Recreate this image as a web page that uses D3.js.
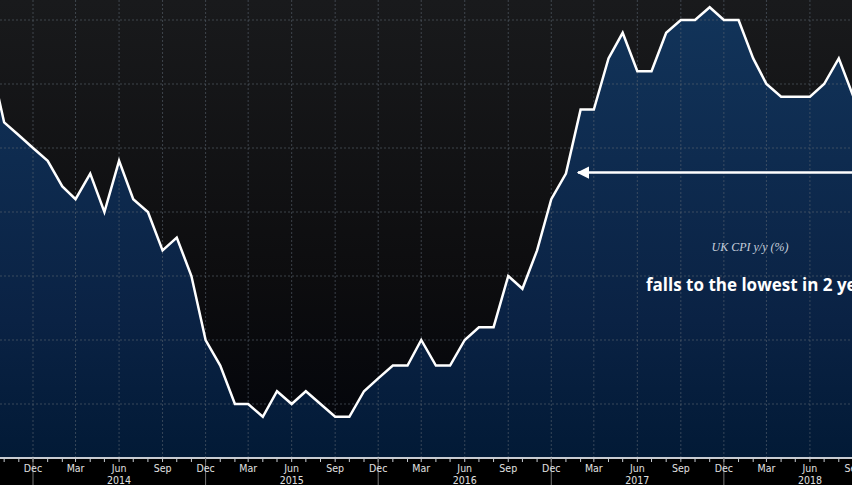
<!DOCTYPE html>
<html><head><meta charset="utf-8">
<script src="https://cdn.jsdelivr.net/npm/d3@7"></script>
<style>body{margin:0;background:#000;overflow:hidden}</style>
</head><body>
<svg id="chart" width="852" height="485"></svg>
<script>
// monthly UK CPI y/y, Sep 2013 .. Sep 2018
const startMonth = new Date(2013, 8, 1);
const cpiValues = [2.7, 2.2, 2.1, 2.0,
  1.9, 1.7, 1.6, 1.8, 1.5, 1.9, 1.6, 1.5, 1.2, 1.3, 1.0, 0.5,
  0.3, 0.0, 0.0, -0.1, 0.1, 0.0, 0.1, 0.0, -0.1, -0.1, 0.1, 0.2,
  0.3, 0.3, 0.5, 0.3, 0.3, 0.5, 0.6, 0.6, 1.0, 0.9, 1.2, 1.6,
  1.8, 2.3, 2.3, 2.7, 2.9, 2.6, 2.6, 2.9, 3.0, 3.0, 3.1, 3.0,
  3.0, 2.7, 2.5, 2.4, 2.4, 2.4, 2.5, 2.7, 2.4];
const yGridValues = [0, 0.5, 1, 1.5, 2, 2.5, 3];
const monthLabels = ["Dec", "Mar", "Jun", "Sep"];
const yearLabels = [2014, 2015, 2016, 2017, 2018];
const seriesTitle = "UK CPI y/y (%)";
const headline = "falls to the lowest in 2 years";

const data = cpiValues.map((v, i) => ({ date: d3.timeMonth.offset(startMonth, i), value: v }));

const W = 852, H = 485, axisY = 458;
const svg = d3.select("#chart");

const x = d3.scaleTime()
  .domain([new Date(2013, 11, 1), new Date(2014, 11, 1)])
  .range([33, 205.6]);
const y = d3.scaleLinear().domain([0, 3]).range([404, 20]);

const defs = svg.append("defs");
const bg = defs.append("linearGradient").attr("id", "bg").attr("x1", 0).attr("x2", 0).attr("y1", 0).attr("y2", 1);
bg.append("stop").attr("offset", 0).attr("stop-color", "#191a1c");
bg.append("stop").attr("offset", 0.6).attr("stop-color", "#0d0d0f");
bg.append("stop").attr("offset", 1).attr("stop-color", "#02040a");
const af = defs.append("linearGradient").attr("id", "af").attr("gradientUnits", "userSpaceOnUse")
  .attr("x1", 0).attr("x2", 0).attr("y1", 0).attr("y2", axisY);
af.append("stop").attr("offset", 0).attr("stop-color", "#12345a");
af.append("stop").attr("offset", 0.7).attr("stop-color", "#0a2244");
af.append("stop").attr("offset", 1).attr("stop-color", "#021a36");

svg.append("rect").attr("width", W).attr("height", axisY).attr("fill", "url(#bg)");
svg.append("rect").attr("y", axisY).attr("width", W).attr("height", H - axisY).attr("fill", "#000");

svg.append("path").datum(data)
  .attr("fill", "url(#af)")
  .attr("d", d3.area().x(d => x(d.date)).y0(axisY).y1(d => y(d.value)));

// grid
const quarterTicks = d3.timeMonth.range(new Date(2013, 11, 1), new Date(2018, 9, 1), 3);
svg.append("g").selectAll("line").data(yGridValues).join("line")
  .attr("x1", 0).attr("x2", W).attr("y1", d => y(d)).attr("y2", d => y(d))
  .attr("stroke", "#5a6470").attr("stroke-opacity", 0.6).attr("stroke-dasharray", "2,2");
svg.append("g").selectAll("line").data(quarterTicks).join("line")
  .attr("x1", d => x(d)).attr("x2", d => x(d)).attr("y1", 0).attr("y2", axisY)
  .attr("stroke", "#5a6470").attr("stroke-opacity", 0.6).attr("stroke-dasharray", "2,2");

svg.append("path").datum(data)
  .attr("fill", "none").attr("stroke", "#fff").attr("stroke-width", 2.5)
  .attr("stroke-linejoin", "miter")
  .attr("d", d3.line().x(d => x(d.date)).y(d => y(d.value)));

// x axis
const ax = svg.append("g").attr("transform", `translate(0,${axisY})`);
ax.append("line").attr("x1", 0).attr("x2", W).attr("stroke", "#c8ccd2").attr("stroke-width", 2);
ax.selectAll(".mt").data(d3.timeMonth.range(new Date(2013, 8, 1), new Date(2018, 10, 1))).join("line")
  .attr("x1", d => x(d)).attr("x2", d => x(d)).attr("y1", 0).attr("y2", 4).attr("stroke", "#c8ccd2");
ax.selectAll(".yt").data(quarterTicks.filter(d => d.getMonth() === 11)).join("line")
  .attr("x1", d => x(d)).attr("x2", d => x(d)).attr("y1", 0).attr("y2", 27).attr("stroke", "#777");
ax.selectAll(".ml").data(quarterTicks).join("text")
  .attr("x", d => x(d)).attr("y", 14).attr("text-anchor", "middle")
  .attr("fill", "#e0e0e0").attr("font-family", "DejaVu Sans Condensed, DejaVu Sans").attr("font-size", 10.5)
  .text(d => monthLabels[Math.floor((d.getMonth() + 1) % 12 / 3)]);
ax.selectAll(".yl").data(yearLabels).join("text")
  .attr("x", d => x(new Date(d, 5, 1))).attr("y", 26).attr("text-anchor", "middle")
  .attr("fill", "#e0e0e0").attr("font-family", "DejaVu Sans Condensed, DejaVu Sans").attr("font-size", 10.5)
  .text(d => d);

// annotation arrow
const arrowY = y(1.8) - 1;
defs.append("marker").attr("id", "ah").attr("viewBox", "0 0 10 10").attr("refX", 9).attr("refY", 5)
  .attr("markerWidth", 5).attr("markerHeight", 5).attr("orient", "auto")
  .append("path").attr("d", "M10,5L0,0L0,10Z").attr("fill", "#fff");
svg.append("line").attr("x1", W).attr("x2", 578).attr("y1", arrowY).attr("y2", arrowY)
  .attr("stroke", "#fff").attr("stroke-width", 2.5).attr("marker-end", "url(#ah)");

svg.append("text").attr("x", 750).attr("y", 251).attr("text-anchor", "middle")
  .attr("fill", "#c6cfdb").attr("font-family", "Liberation Serif, serif").attr("font-style", "italic")
  .attr("font-size", 12).text(seriesTitle);
svg.append("text").attr("x", 646).attr("y", 291)
  .attr("fill", "#fff").attr("font-family", "Open Sans, sans-serif").attr("font-weight", "bold")
  .attr("font-size", 17).text(headline);
</script>
</body></html>
